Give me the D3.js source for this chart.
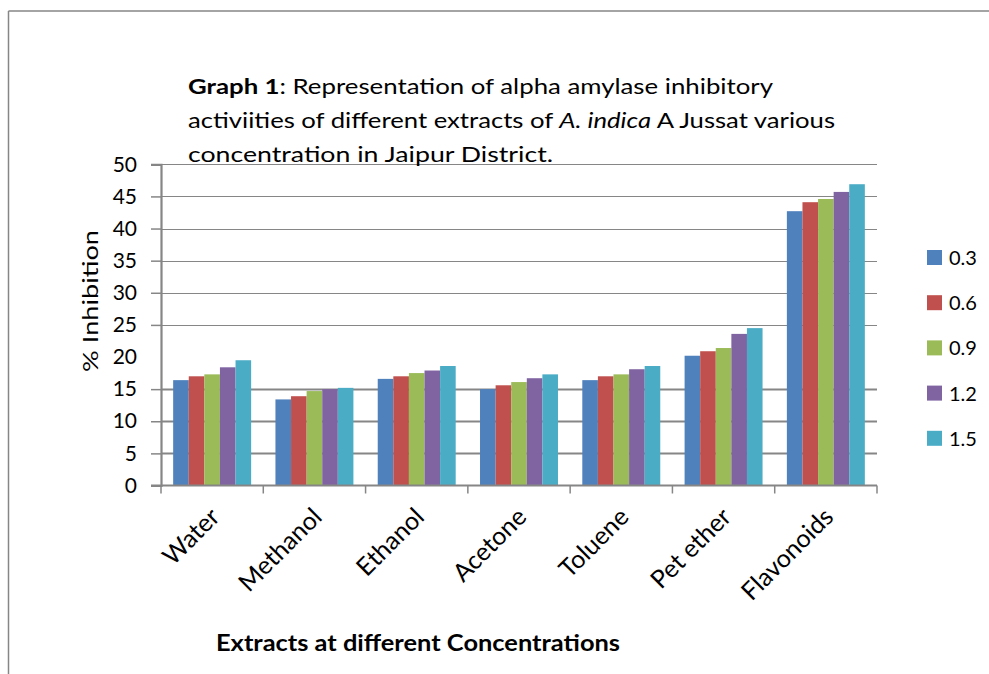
<!DOCTYPE html>
<html>
<head>
<meta charset="utf-8">
<script src="https://cdn.jsdelivr.net/npm/d3@7"></script>
<style>
  html, body { margin: 0; padding: 0; background: #fff; }
  svg { display: block; font-family: Lato, "Open Sans", sans-serif; }
</style>
</head>
<body>
<svg id="chart" width="989" height="674"></svg>
<script>
// Alpha amylase inhibition (%) per extract, one series per concentration
const categories = ["Water", "Methanol", "Ethanol", "Acetone", "Toluene", "Pet ether", "Flavonoids"];
const seriesNames = ["0.3", "0.6", "0.9", "1.2", "1.5"];
const conc03 = [16.4, 13.4, 16.6, 15.0, 16.4, 20.2, 42.7];
const conc06 = [17.0, 13.9, 17.0, 15.6, 17.0, 20.9, 44.1];
const conc09 = [17.3, 14.7, 17.5, 16.1, 17.3, 21.4, 44.6];
const conc12 = [18.4, 15.0, 17.9, 16.7, 18.1, 23.6, 45.7];
const conc15 = [19.5, 15.2, 18.6, 17.3, 18.6, 24.5, 46.9];
const seriesValues = [conc03, conc06, conc09, conc12, conc15];
const yTicks = [0, 5, 10, 15, 20, 25, 30, 35, 40, 45, 50];
const gridValues = [5, 10, 15, 25, 30, 35, 40, 45, 50];
const colors = ["#4F81BD", "#C0504D", "#9BBB59", "#8064A2", "#4BACC6"];

const svg = d3.select("#chart");
const axisColor = "#868686";

// outer frame
svg.append("line").attr("x1", 8.5).attr("y1", 11).attr("x2", 989).attr("y2", 11)
  .attr("stroke", axisColor).attr("stroke-width", 1.5);
svg.append("line").attr("x1", 8.5).attr("y1", 11).attr("x2", 8.5).attr("y2", 674)
  .attr("stroke", axisColor).attr("stroke-width", 1.5);

const plot = { left: 161, right: 877, top: 164.3, bottom: 485.5 };

const x0 = d3.scaleBand().domain(categories).range([plot.left, plot.right]).padding(0);
const x1 = d3.scaleBand().domain(seriesNames).range([0, x0.bandwidth()])
  .paddingInner(0).paddingOuter(0.78);
const y = d3.scaleLinear().domain([0, 50]).range([plot.bottom, plot.top]);

// horizontal gridlines
svg.append("g").selectAll("line").data(gridValues).join("line")
  .attr("x1", plot.left).attr("x2", plot.right)
  .attr("y1", d => Math.round(y(d)) + 0.5).attr("y2", d => Math.round(y(d)) + 0.5)
  .attr("stroke", axisColor)
  .attr("stroke-width", d => d <= 15 ? 2 : 1.2);

// bars
const groups = svg.append("g").selectAll("g").data(categories).join("g")
  .attr("transform", c => `translate(${x0(c)},0)`);
groups.selectAll("rect")
  .data((c, i) => seriesNames.map((s, k) => ({ s, k, v: seriesValues[k][i] })))
  .join("rect")
  .attr("x", d => x1(d.s))
  .attr("width", x1.bandwidth())
  .attr("y", d => y(d.v))
  .attr("height", d => y(0) - y(d.v))
  .attr("fill", d => colors[d.k]);

// y axis
const yAxis = svg.append("g").attr("transform", `translate(${plot.left},0)`)
  .call(d3.axisLeft(y).tickValues(yTicks).tickSize(10).tickPadding(14).tickFormat(d3.format("d")));
yAxis.select(".domain").attr("stroke", axisColor).attr("stroke-width", 2.2);
yAxis.selectAll(".tick line").attr("stroke", axisColor).attr("stroke-width", 1.5)
  .attr("display", d => d === 20 ? "none" : null);
yAxis.selectAll(".tick text").attr("fill", "#000").style("font-size", "21px")
  .style("font-family", "Lato, sans-serif");

// x axis: ticks on category boundaries
const xAxisG = svg.append("g").attr("transform", `translate(0,${plot.bottom})`);
xAxisG.append("line").attr("x1", plot.left - 10).attr("x2", plot.right)
  .attr("y1", 0).attr("y2", 0).attr("stroke", axisColor).attr("stroke-width", 2.2);
const boundaries = categories.map(c => x0(c)).concat([x0.range()[1]]);
xAxisG.selectAll("line.tk").data(boundaries).join("line").attr("class", "tk")
  .attr("x1", d => d).attr("x2", d => d).attr("y1", 0).attr("y2", 8)
  .attr("stroke", axisColor).attr("stroke-width", 1.5);

// rotated category labels
svg.append("g").selectAll("text").data(categories).join("text")
  .attr("transform", c => `translate(${x0(c) + x0.bandwidth() / 2 + 9},${plot.bottom + 33}) rotate(-45)`)
  .attr("text-anchor", "end")
  .style("font-size", "25px")
  .attr("fill", "#000")
  .text(c => c);

// y axis title
svg.append("text")
  .attr("transform", `translate(98,301) rotate(-90)`)
  .attr("text-anchor", "middle")
  .attr("textLength", 142).attr("lengthAdjust", "spacingAndGlyphs")
  .style("font-size", "22px")
  .attr("fill", "#000")
  .text("% Inhibition");

// x axis title
svg.append("text")
  .attr("x", 216).attr("y", 651)
  .attr("textLength", 404).attr("lengthAdjust", "spacingAndGlyphs")
  .style("font-size", "22px").style("font-weight", "bold")
  .attr("fill", "#000")
  .text("Extracts at different Concentrations");

// chart title
const title = svg.append("g").attr("fill", "#000").style("font-size", "21px");
const t1 = title.append("text").attr("x", 188).attr("y", 94)
  .attr("textLength", 585).attr("lengthAdjust", "spacingAndGlyphs");
t1.append("tspan").style("font-weight", "bold").text("Graph 1");
t1.append("tspan").text(": Representation of alpha amylase  inhibitory");
const t2 = title.append("text").attr("x", 188).attr("y", 128)
  .attr("textLength", 647).attr("lengthAdjust", "spacingAndGlyphs");
t2.append("tspan").text("activiities of different extracts of ");
t2.append("tspan").style("font-style", "italic").text("A. indica");
t2.append("tspan").text(" A Jussat various");
title.append("text").attr("x", 188).attr("y", 162)
  .attr("textLength", 365).attr("lengthAdjust", "spacingAndGlyphs")
  .text("concentration in Jaipur District.");

// legend
const legend = svg.append("g").selectAll("g").data(seriesNames).join("g")
  .attr("transform", (s, i) => `translate(927,${250 + i * 45.2})`);
legend.append("rect").attr("width", 15).attr("height", 15).attr("fill", (s, i) => colors[i]);
legend.append("text").attr("x", 22).attr("y", 15)
  .style("font-size", "20px").attr("fill", "#000").text(s => s);
</script>
</body>
</html>
